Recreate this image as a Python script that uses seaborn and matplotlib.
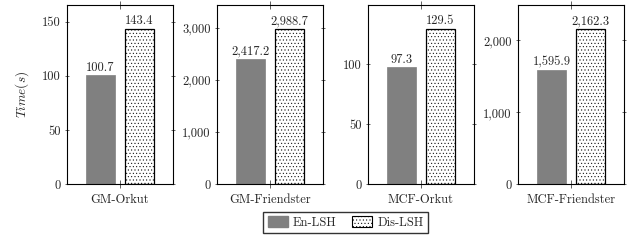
import matplotlib
matplotlib.use("Agg")
import matplotlib.pyplot as plt
import matplotlib.ticker as mticker
from matplotlib.patches import Patch
import pandas as pd
import seaborn as sns

# data
datasets = ["GM-Orkut", "GM-Friendster", "MCF-Orkut", "MCF-Friendster"]
methods = ["En-LSH", "Dis-LSH"]
en_lsh = [100.7, 2417.2, 97.3, 1595.9]
dis_lsh = [143.4, 2988.7, 129.5, 2162.3]
yticks = [[0, 50, 100, 150], [0, 1000, 2000, 3000], [0, 50, 100], [0, 1000, 2000]]

sns.set_style("ticks")
plt.rcParams["font.family"] = "serif"
plt.rcParams["font.serif"] = ["cmr10", "DejaVu Serif"]
plt.rcParams["mathtext.fontset"] = "cm"
plt.rcParams["axes.formatter.use_mathtext"] = True
plt.rcParams["hatch.linewidth"] = 0.35

gray = "#808080"
palette = {"En-LSH": gray, "Dis-LSH": "white"}
fs = 9

fig = plt.figure(figsize=(6.41, 2.5), dpi=100)
lefts = [67, 217, 368, 518]

for i, name in enumerate(datasets):
    ax = fig.add_axes([lefts[i] / 641, 0.263, 106 / 641, 0.717])
    df = pd.DataFrame({"dataset": [name, name],
                       "method": methods,
                       "time": [en_lsh[i], dis_lsh[i]]})
    sns.barplot(data=df, x="dataset", y="time", hue="method", hue_order=methods,
                palette=palette, gap=0.26, legend=False, ax=ax)
    # style the two bars
    bars = ax.patches
    bars[0].set_edgecolor(gray)
    bars[0].set_linewidth(0.5)
    bars[1].set_edgecolor("black")
    bars[1].set_linewidth(0.9)
    bars[1].set_hatch(".....")
    for c in ax.containers:
        ax.bar_label(c, labels=[f"{v:,.1f}" for v in c.datavalues], padding=1, fontsize=fs)

    top = max(en_lsh[i], dis_lsh[i]) * 1.153
    ax.set_ylim(0, top)
    ax.set_xlim(-0.543, 0.543)
    ax.set_yticks(yticks[i])
    ax.yaxis.set_major_formatter(mticker.FuncFormatter(lambda v, p: f"{v:,.0f}"))
    ax.set_xlabel("")
    ax.set_ylabel("")
    for s in ax.spines.values():
        s.set_visible(True)
        s.set_linewidth(0.8)
        s.set_color("black")
    ax.tick_params(axis="y", direction="inout", length=3, width=0.5,
                   left=True, right=True, labelsize=fs, pad=3)
    ax.tick_params(axis="x", direction="inout", length=6, width=0.5,
                   top=True, bottom=True, labelsize=fs, pad=4)
    if i == 0:
        ax.set_ylabel("$Time(s)$", fontsize=fs + 0.5, labelpad=8)

handles = [Patch(facecolor=gray, edgecolor=gray, label="En-LSH"),
           Patch(facecolor="white", edgecolor="black", hatch=".....", linewidth=0.8,
                 label="Dis-LSH")]
fig.legend(handles=handles, loc="center", bbox_to_anchor=(345.5 / 641, 0.11), ncol=2,
           fontsize=fs, frameon=True, fancybox=False, edgecolor="black",
           handlelength=1.6, handleheight=1.0, columnspacing=1.3, handletextpad=0.4,
           borderpad=0.35)

fig.savefig("out.png", dpi=100)
